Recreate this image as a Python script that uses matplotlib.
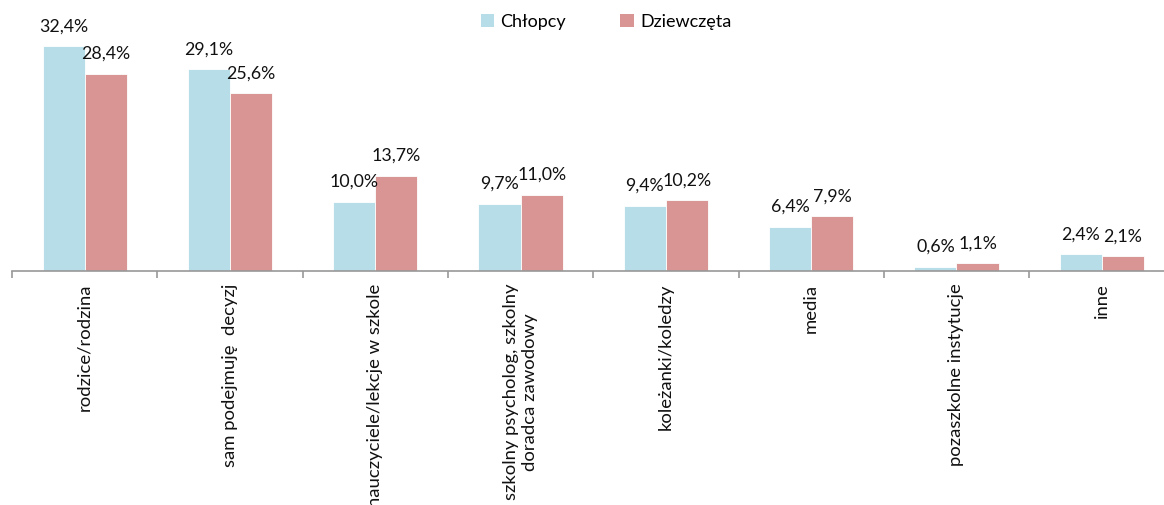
import matplotlib
matplotlib.use("Agg")
import matplotlib.pyplot as plt
import numpy as np
from matplotlib.patches import Patch

categories = ["rodzice/rodzina", "sam podejmuję  decyzj", "nauczyciele/lekcje w szkole",
              "szkolny psycholog, szkolny\ndoradca zawodowy", "koleżanki/koledzy", "media",
              "pozaszkolne instytucje", "inne"]
chlopcy = [32.4, 29.1, 10.0, 9.7, 9.4, 6.4, 0.6, 2.4]
dziewczeta = [28.4, 25.6, 13.7, 11.0, 10.2, 7.9, 1.1, 2.1]
series_names = ["Chłopcy", "Dziewczęta"]
colors = ["#B7DEE8", "#D99594"]

plt.rcParams['font.family'] = ['Lato', 'DejaVu Sans']

W, H = 1164, 505
fig = plt.figure(figsize=(W / 100, H / 100), dpi=100)
ax_left = 12 / W
cat_w = 145.3
ax = fig.add_axes([ax_left, (H - 271) / H, 8 * cat_w / W, 271 / H])

x = np.arange(len(categories))
bw = 0.29
b1 = ax.bar(x - bw / 2, chlopcy, bw, color=colors[0], edgecolor="white", linewidth=0.6)
b2 = ax.bar(x + bw / 2, dziewczeta, bw, color=colors[1], edgecolor="white", linewidth=0.6)

for bars, vals in ((b1, chlopcy), (b2, dziewczeta)):
    for r, v in zip(bars, vals):
        ax.annotate(f"{v:.1f}%".replace(".", ","), (r.get_x() + r.get_width() / 2, v),
                    xytext=(0, 8.5), textcoords="offset points", ha="center", va="bottom",
                    fontsize=12.8, color="#111111", clip_on=False)

ax.set_xlim(-0.5, len(categories) - 0.5)
ax.set_ylim(0, 271 / 6.94)
for s in ("top", "right", "left"):
    ax.spines[s].set_visible(False)
ax.spines["bottom"].set_color("#989898")
ax.spines["bottom"].set_linewidth(1.2)
ax.set_yticks([])
ax.set_xticks(x)
ax.set_xticklabels(categories, rotation=90, fontsize=13.3, color="#111111", multialignment="center")
ax.tick_params(axis="x", which="major", length=0, pad=9)
ax.set_xticks(np.arange(len(categories)) - 0.5, minor=True)
ax.tick_params(axis="x", which="minor", length=5, width=1.2, color="#989898")

handles = [Patch(facecolor=colors[0]), Patch(facecolor=colors[1])]
fig.legend(handles, series_names, loc="center", bbox_to_anchor=(606 / W, 1 - 22 / H), ncol=2,
           frameon=False, fontsize=13, handlelength=0.75, handleheight=0.75, handletextpad=0.35,
           columnspacing=3.0)

fig.savefig("out.png", dpi=100)
